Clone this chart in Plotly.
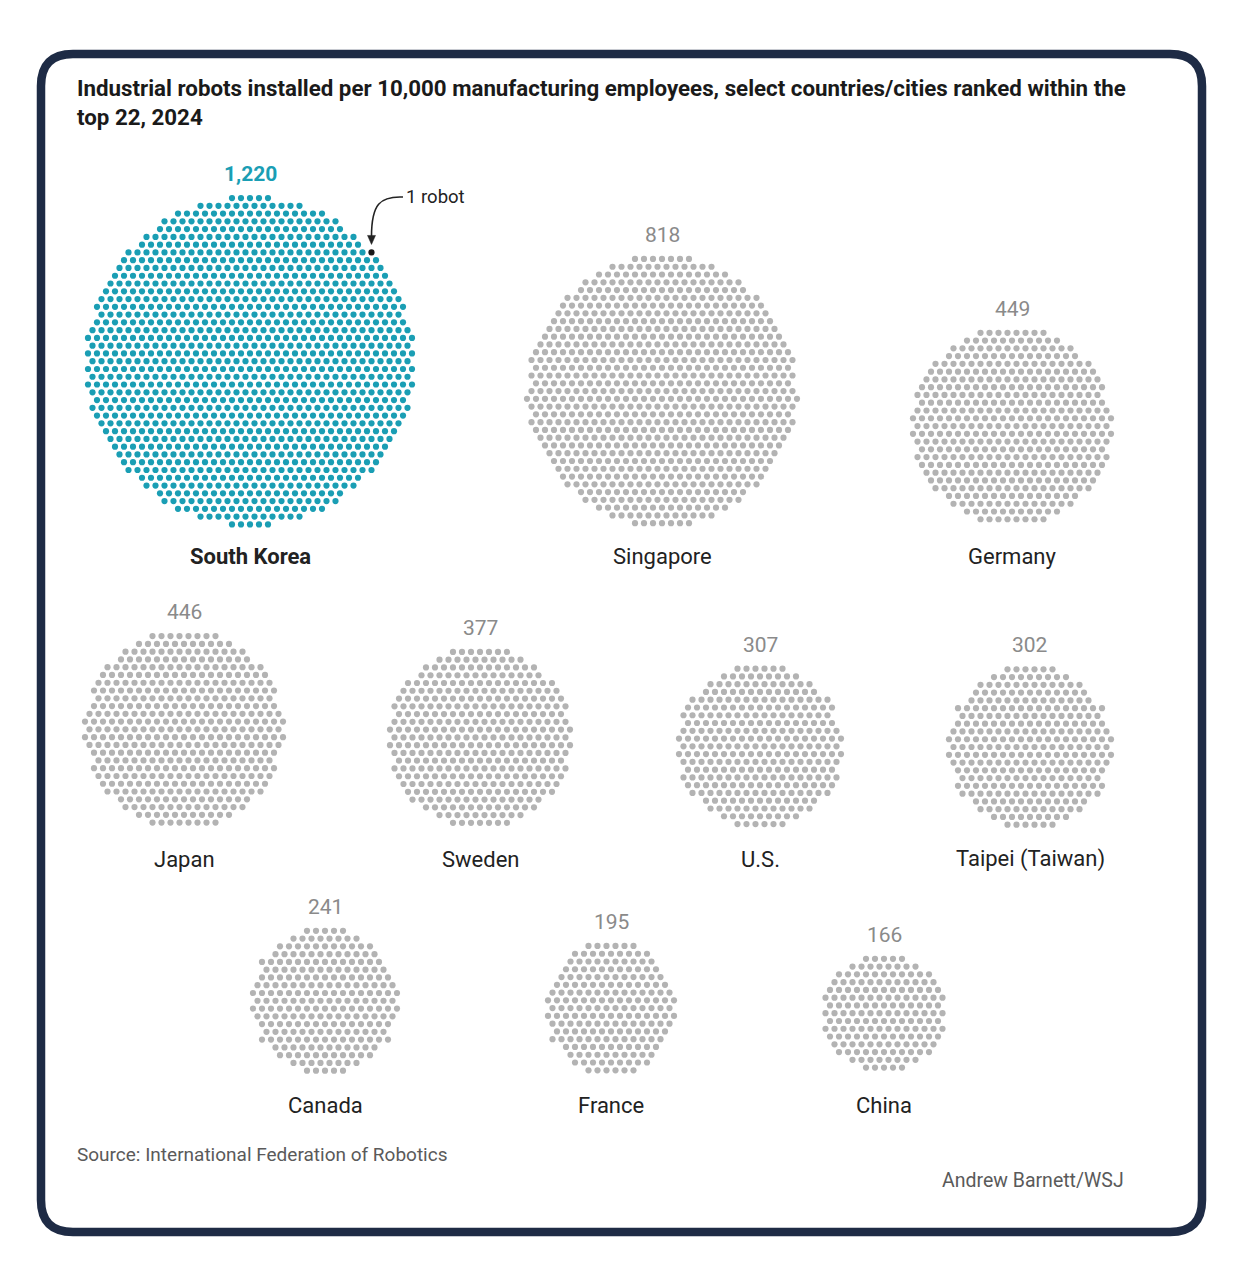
import math
import plotly.graph_objects as go

# ---------------- data ----------------
countries = ["South Korea", "Singapore", "Germany", "Japan", "Sweden", "U.S.",
             "Taipei (Taiwan)", "Canada", "France", "China"]
values = [1220, 818, 449, 446, 377, 307, 302, 241, 195, 166]
highlight = "South Korea"

# ---------------- layout config (pixel space) ----------------
W, H = 1240, 1272
block_cx = [250, 662, 1012, 184, 480, 760, 1030, 325, 611, 884]
block_row = [0, 0, 0, 1, 1, 1, 1, 2, 2, 2]
row_base = [526, 829, 1074]      # centre + nominal radius per row of blocks
row_label = [556, 859, 1105]
DX, DY = 9.0, 7.77
DOT = 6.2
TEAL = "#1a9eb4"
GRAY = "#b3b3b3"
FONT = "Roboto"


def unit_layout(n):
    """Hex lattice points nearest the centre (centre sits between two dots)."""
    R = int(math.sqrt(n) * 1.2) + 4
    pts = []
    for j in range(-R, R + 1):
        off = 0.5 * DX if j % 2 == 0 else 0.0
        for i in range(-R, R + 1):
            x = i * DX + off
            y = j * DY
            pts.append((round(math.hypot(x, y), 6), -y, x, x, y))
    pts.sort()
    return [(p[3], p[4]) for p in pts[:n]]


fig = go.Figure()
annotations = []
shapes = []

for k, (name, v) in enumerate(zip(countries, values)):
    pts = unit_layout(v)
    Rn = math.sqrt(v * DX * DY / math.pi)
    cx = block_cx[k]
    cy = row_base[block_row[k]] - Rn
    xs = [cx + p[0] for p in pts]
    ys = [cy + p[1] for p in pts]
    color = TEAL if name == highlight else GRAY
    colors = [color] * len(xs)
    if name == highlight:
        # the "1 robot" dot: outermost unit towards the upper right
        idx = max(range(len(xs)), key=lambda q: ((xs[q] - cx) - (ys[q] - cy), -(ys[q])))
        colors[idx] = "#1a1a1a"
        dot_x, dot_y = xs[idx], ys[idx]
    fig.add_trace(go.Scatter(
        x=xs, y=ys, mode="markers",
        marker=dict(size=DOT, color=colors, line=dict(width=0)),
        hoverinfo="skip", showlegend=False,
    ))
    top = min(ys)
    bold = name == highlight
    annotations.append(dict(
        x=cx, y=top - 24, xref="x", yref="y", showarrow=False,
        text=(f"<b>{v:,}</b>" if bold else f"{v:,}"),
        font=dict(family=FONT, size=21, color=TEAL if bold else "#8a8a8a"),
        xanchor="center", yanchor="middle",
    ))
    annotations.append(dict(
        x=cx, y=row_label[block_row[k]], xref="x", yref="y", showarrow=False,
        text=(f"<b>{name}</b>" if bold else name),
        font=dict(family=FONT, size=22, color="#222222"),
        xanchor="center", yanchor="middle",
    ))

# callout "1 robot"
annotations.append(dict(
    x=404, y=197, xref="x", yref="y", showarrow=False, text="1 robot",
    font=dict(family=FONT, size=18.5, color="#222222"),
    xanchor="left", yanchor="middle",
))
shapes.append(dict(
    type="path", xref="x", yref="y",
    path=f"M 403 197 C 380 196 {dot_x} 204 {dot_x} {dot_y-16}",
    line=dict(color="#222222", width=1.6),
))
shapes.append(dict(
    type="path", xref="x", yref="y",
    path=f"M {dot_x-4} {dot_y-17} L {dot_x+4} {dot_y-17} L {dot_x} {dot_y-8} Z",
    line=dict(color="#222222", width=0.5), fillcolor="#222222",
))

# title, source, credit
annotations.append(dict(
    x=75, y=102, xref="x", yref="y", showarrow=False,
    text="<b>Industrial robots installed per 10,000 manufacturing employees, select countries/cities ranked within the<br>top 22, 2024</b>",
    font=dict(family=FONT, size=22.3, color="#1a1a1a"),
    xanchor="left", yanchor="middle", align="left",
))
annotations.append(dict(
    x=75, y=1154, xref="x", yref="y", showarrow=False,
    text="Source: International Federation of Robotics",
    font=dict(family=FONT, size=19, color="#5a5a5a"),
    xanchor="left", yanchor="middle",
))
annotations.append(dict(
    x=1126, y=1180, xref="x", yref="y", showarrow=False,
    text="Andrew Barnett/WSJ",
    font=dict(family=FONT, size=19.5, color="#5a5a5a"),
    xanchor="right", yanchor="middle",
))

# rounded frame
L, T, Rr, B, r = 41, 54, 1202, 1232, 32
frame = (f"M {L+r} {T} L {Rr-r} {T} Q {Rr} {T} {Rr} {T+r} "
         f"L {Rr} {B-r} Q {Rr} {B} {Rr-r} {B} "
         f"L {L+r} {B} Q {L} {B} {L} {B-r} "
         f"L {L} {T+r} Q {L} {T} {L+r} {T} Z")
shapes.append(dict(type="path", xref="x", yref="y", path=frame,
                   line=dict(color="#1e2b45", width=8.5), layer="below"))

fig.update_layout(
    width=W, height=H, margin=dict(l=0, r=0, t=0, b=0),
    paper_bgcolor="white", plot_bgcolor="white",
    xaxis=dict(range=[0, W], visible=False, fixedrange=True),
    yaxis=dict(range=[H, 0], visible=False, fixedrange=True),
    annotations=annotations, shapes=shapes,
)

fig.write_html("out.html", post_script="document.body.style.margin='0';",
               config={"displayModeBar": False})
